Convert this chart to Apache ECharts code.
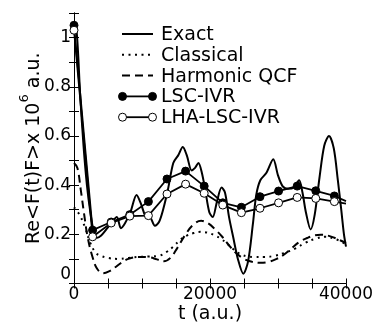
<!DOCTYPE html>
<html>
<head>
<meta charset="utf-8">
<script src="https://cdn.jsdelivr.net/npm/echarts@6/dist/echarts.min.js"></script>
<style>
html,body{margin:0;padding:0;background:#fff;}
#chart{width:378px;height:327px;}
</style>
</head>
<body>
<div id="chart"></div>
<script>
// ---- data ----
var exactT = [0, 400, 900, 1400, 1900, 2400, 2900, 3300, 4000, 4900, 5600, 6300, 6900, 7500, 8300, 9200, 9900, 10500, 11200, 11900, 12500, 13100, 13800, 14600, 15300, 16000, 16600, 17300, 17800, 18300, 18800, 19300, 19900, 20400, 21000, 21700, 22200, 22800, 23400, 24100, 24900, 25600, 26300, 26800, 27400, 28300, 29300, 30000, 30700, 31500, 32300, 33100, 33600, 34100, 34800, 35400, 36100, 36800, 37500, 38200, 38800, 39300, 39700, 40000];
var exactV = [1.05, 1.02, 0.77, 0.56, 0.40, 0.29, 0.21, 0.185, 0.195, 0.225, 0.25, 0.27, 0.225, 0.245, 0.29, 0.36, 0.32, 0.275, 0.27, 0.235, 0.25, 0.30, 0.38, 0.49, 0.52, 0.555, 0.52, 0.46, 0.47, 0.49, 0.45, 0.38, 0.29, 0.27, 0.33, 0.39, 0.37, 0.27, 0.19, 0.10, 0.04, 0.09, 0.24, 0.36, 0.42, 0.45, 0.505, 0.44, 0.395, 0.385, 0.39, 0.42, 0.37, 0.29, 0.22, 0.28, 0.43, 0.56, 0.60, 0.55, 0.42, 0.30, 0.20, 0.15];

var classicalT = [0, 800, 1600, 2400, 3200, 4000, 5000, 6500, 8000, 9500, 11000, 12500, 13600, 14600, 15600, 16600, 17600, 18600, 19600, 20600, 21600, 22600, 23600, 24600, 25600, 26600, 28000, 29500, 31000, 32500, 34000, 35500, 37000, 38500, 40000];
var classicalV = [0.31, 0.28, 0.23, 0.165, 0.125, 0.112, 0.104, 0.100, 0.104, 0.108, 0.110, 0.113, 0.128, 0.15, 0.177, 0.195, 0.205, 0.21, 0.207, 0.197, 0.182, 0.16, 0.136, 0.118, 0.11, 0.108, 0.108, 0.113, 0.125, 0.142, 0.165, 0.182, 0.19, 0.18, 0.16];

var harmonicT = [0, 500, 1000, 1500, 2000, 2700, 3400, 4300, 5200, 6000, 7000, 8000, 9500, 11000, 12200, 13200, 14200, 15200, 16300, 17500, 18700, 19700, 20700, 21800, 22800, 23800, 25000, 26200, 27300, 28500, 29800, 30800, 32000, 33200, 34300, 35300, 36300, 37300, 38300, 39200, 40000];
var harmonicV = [0.49, 0.47, 0.38, 0.28, 0.19, 0.11, 0.06, 0.042, 0.05, 0.065, 0.085, 0.1, 0.108, 0.107, 0.098, 0.09, 0.105, 0.145, 0.195, 0.238, 0.255, 0.245, 0.222, 0.19, 0.155, 0.125, 0.1, 0.088, 0.084, 0.087, 0.1, 0.116, 0.143, 0.17, 0.185, 0.195, 0.198, 0.195, 0.186, 0.175, 0.165];

// marked points (last point is the curve end, drawn without a marker)
var ivrT = [0, 2735, 5470, 8205, 10940, 13675, 16410, 19145, 21880, 24615, 27350, 30085, 32820, 35555, 38290, 40000];
var lscV = [1.05, 0.217, 0.25, 0.28, 0.333, 0.425, 0.457, 0.396, 0.328, 0.31, 0.353, 0.376, 0.396, 0.377, 0.356, 0.335];
var lhaV = [1.03, 0.19, 0.246, 0.274, 0.276, 0.364, 0.404, 0.367, 0.319, 0.288, 0.306, 0.328, 0.35, 0.346, 0.333, 0.325];

var seriesNames = ['Exact', 'Classical', 'Harmonic QCF', 'LSC-IVR', 'LHA-LSC-IVR'];
var xLabelVals = [0, 20000, 40000];
var yLabelVals = ['0', '0.2', '0.4', '0.6', '0.8', '1'];

// ---- chart ----
function pairs(ts, vs) { return ts.map(function (t, i) { return [t, vs[i]]; }); }
var FONT = 'DejaVu Sans';
var chart = echarts.init(document.getElementById('chart'), null, { renderer: 'canvas' });

var lastIdx = ivrT.length - 1;
function markerFn(v, p) { return p.dataIndex === lastIdx ? 'none' : 'circle'; }

var axisCommon = {
  axisLine: { show: true, lineStyle: { color: '#000', width: 1 } },
  axisTick: { show: true, inside: true, length: 5, lineStyle: { color: '#000', width: 1 } },
  splitLine: { show: false }
};

// legend drawn as graphic
var legendStyles = [
  { dash: null, width: 2, marker: null },
  { dash: [2, 4.5], width: 2, marker: null },
  { dash: [8, 5], width: 2, marker: null },
  { dash: null, width: 1.8, marker: '#000' },
  { dash: null, width: 1.8, marker: '#fff' }
];
var graphics = [];
seriesNames.forEach(function (nm, i) {
  var y = 34 + i * 20.8;
  var st = legendStyles[i];
  graphics.push({ type: 'line', silent: true, z: 100,
    shape: { x1: 122, y1: y, x2: 153, y2: y },
    style: { stroke: '#000', lineWidth: st.width, lineDash: st.dash || null } });
  if (st.marker) {
    [122.5, 152.5].forEach(function (cx) {
      graphics.push({ type: 'circle', silent: true, z: 101,
        shape: { cx: cx, cy: y, r: 4 },
        style: { fill: st.marker, stroke: '#000', lineWidth: 1 } });
    });
  }
  graphics.push({ type: 'text', silent: true, z: 100,
    style: { text: nm, x: 161, y: y + 1, fill: '#000', font: '19px "' + FONT + '"', verticalAlign: 'middle', align: 'left' } });
});

var option = {
  backgroundColor: '#fff',
  animation: false,
  textStyle: { fontFamily: FONT, color: '#000' },
  grid: { left: 74, right: 32, top: 13, bottom: 43.5, containLabel: false, outerBoundsMode: 'none' },
  xAxis: [
    Object.assign({}, axisCommon, {
      type: 'value', min: 0, max: 40000, interval: 5000, position: 'bottom',
      name: 't (a.u.)', nameLocation: 'middle', nameGap: 21, nameMoveOverlap: false,
      nameTextStyle: { fontFamily: FONT, fontSize: 19, color: '#000' },
      axisLabel: {
        show: true, margin: 3, color: '#000', fontFamily: FONT, fontSize: 17,
        formatter: function (v) { return xLabelVals.indexOf(v) >= 0 ? String(v) : ''; }
      }
    }),
    Object.assign({}, axisCommon, {
      type: 'value', min: 0, max: 40000, interval: 5000, position: 'top',
      axisLabel: { show: false }
    })
  ],
  yAxis: [
    Object.assign({}, axisCommon, {
      type: 'value', min: 0, max: 1.1, interval: 0.1, position: 'left',
      name: '{a|Re<F(t)F>x 10}{s|6}{a| a.u.}', nameLocation: 'middle', nameGap: 30, nameRotate: 90, nameMoveOverlap: false,
      nameTextStyle: {
        fontFamily: FONT, fontSize: 19, color: '#000',
        rich: {
          a: { fontFamily: FONT, fontSize: 19, color: '#000', lineHeight: 26, verticalAlign: 'bottom' },
          s: { fontFamily: FONT, fontSize: 13, color: '#000', lineHeight: 26, verticalAlign: 'top' }
        }
      },
      axisLabel: {
        show: true, margin: 3, color: '#000', fontFamily: FONT, fontSize: 17,
        verticalAlignMinLabel: 'bottom',
        formatter: function (v) {
          var k = Math.round(v * 10);
          if (k % 2 !== 0) return '';
          var s = String(k / 10);
          return yLabelVals.indexOf(s) >= 0 ? s : '';
        }
      }
    }),
    Object.assign({}, axisCommon, {
      type: 'value', min: 0, max: 1.1, interval: 0.1, position: 'right',
      axisLabel: { show: false }
    })
  ],
  series: [
    { name: seriesNames[1], type: 'line', data: pairs(classicalT, classicalV), showSymbol: false, symbol: 'none', smooth: 0.4, z: 2,
      lineStyle: { color: '#000', width: 2, type: [2, 4.5], cap: 'butt' } },
    { name: seriesNames[2], type: 'line', data: pairs(harmonicT, harmonicV), showSymbol: false, symbol: 'none', smooth: 0.4, z: 2,
      lineStyle: { color: '#000', width: 2, type: [8, 5], cap: 'butt' } },
    { name: seriesNames[0], type: 'line', data: pairs(exactT, exactV), showSymbol: false, symbol: 'none', smooth: 0.3, z: 3,
      lineStyle: { color: '#000', width: 2 } },
    { name: seriesNames[3], type: 'line', data: pairs(ivrT, lscV), symbol: markerFn, symbolSize: 8, showAllSymbol: true, z: 4,
      lineStyle: { color: '#000', width: 1.8 }, itemStyle: { color: '#000', borderColor: '#000', borderWidth: 1 } },
    { name: seriesNames[4], type: 'line', data: pairs(ivrT, lhaV), symbol: markerFn, symbolSize: 8, showAllSymbol: true, z: 5,
      lineStyle: { color: '#000', width: 1.8 }, itemStyle: { color: '#fff', borderColor: '#000', borderWidth: 1 } }
  ],
  graphic: graphics
};
chart.setOption(option);
</script>
</body>
</html>
